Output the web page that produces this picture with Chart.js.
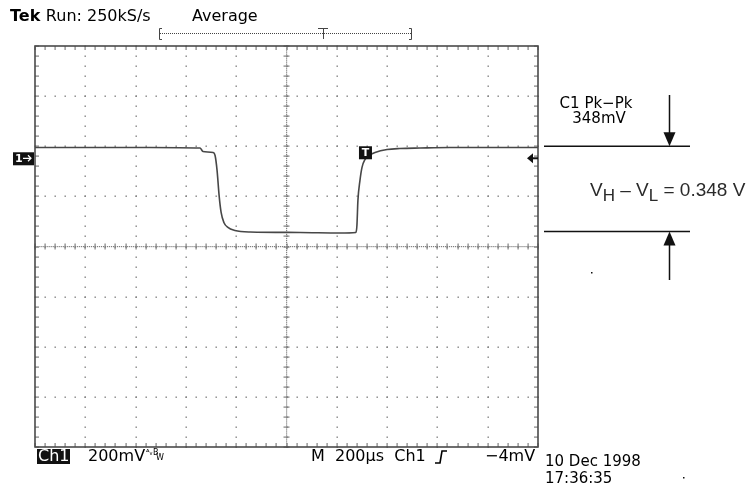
<!DOCTYPE html>
<html>
<head>
<meta charset="utf-8">
<script src="https://cdn.jsdelivr.net/npm/chart.js@4/dist/chart.umd.min.js"></script>
<style>
  html, body { margin: 0; padding: 0; background: #fff; }
  #wrap { position: relative; width: 746px; height: 485px; }
</style>
</head>
<body>
<div id="wrap"><canvas id="scope" width="746" height="485"></canvas></div>
<script>
// time in microseconds across the 10 divisions (200us/div)
const timeUs = [0, 258, 457, 656, 668, 708, 716, 724, 732, 740, 751, 767, 795, 855, 1054, 1213, 1276, 1280, 1284, 1292, 1300, 1312, 1328, 1352, 1400, 1451, 1531, 1650, 2000];
// Ch1 in mV relative to the screen centre (200mV/div)
const ch1mV = [395, 395, 395, 393, 379, 375, 363, 303, 204, 136, 96, 76, 64, 58, 56, 54, 56, 84, 184, 263, 315, 347, 363, 375, 387, 391, 393, 395, 395];

const xTicks = [0, 200, 400, 600, 800, 1000, 1200, 1400, 1600, 1800, 2000];
const yTicks = [-800, -600, -400, -200, 0, 200, 400, 600, 800];

// cursor levels and markers
const cursorHigh = 400;
const cursorLow = 60;
const groundMark = 352;
const trigLevel = 352;
const trigTime = 1312;

const FONT = "'DejaVu Sans', sans-serif";

const graticule = {
  id: "graticule",
  beforeDatasetsDraw(chart) {
    const { ctx, chartArea: a, scales: { x, y } } = chart;
    ctx.save();
    ctx.fillStyle = "#808080";
    const xMid = x.getPixelForValue(1000), yMid = y.getPixelForValue(0);
    // dotted major lines
    xTicks.slice(1, -1).forEach(t => {
      const px = Math.round(x.getPixelForValue(t));
      for (let v = -800; v <= 800; v += 40) {
        ctx.fillRect(px - 0.5, Math.round(y.getPixelForValue(v)) - 0.5, 1.4, 1.4);
      }
    });
    yTicks.slice(1, -1).forEach(v => {
      const py = Math.round(y.getPixelForValue(v));
      for (let t = 0; t <= 2000; t += 40) {
        ctx.fillRect(Math.round(x.getPixelForValue(t)) - 0.5, py - 0.5, 1.4, 1.4);
      }
    });
    // centre lines, finer dots plus small ticks
    for (let v = -800; v <= 800; v += 8) {
      ctx.fillRect(xMid - 0.5, y.getPixelForValue(v) - 0.5, 1.2, 1.2);
    }
    for (let t = 0; t <= 2000; t += 8) {
      ctx.fillRect(x.getPixelForValue(t) - 0.5, yMid - 0.5, 1.2, 1.2);
    }
    for (let v = -800; v <= 800; v += 40) {
      ctx.fillRect(xMid - 3, Math.round(y.getPixelForValue(v)) - 0.5, 6, 1.2);
      ctx.fillRect(a.left, Math.round(y.getPixelForValue(v)) - 0.5, 4, 1.2);
      ctx.fillRect(a.right - 4, Math.round(y.getPixelForValue(v)) - 0.5, 4, 1.2);
    }
    for (let t = 0; t <= 2000; t += 40) {
      ctx.fillRect(Math.round(x.getPixelForValue(t)) - 0.5, yMid - 3, 1.2, 6);
      ctx.fillRect(Math.round(x.getPixelForValue(t)) - 0.5, a.top, 1.2, 4);
      ctx.fillRect(Math.round(x.getPixelForValue(t)) - 0.5, a.bottom - 4, 1.2, 4);
    }
    // frame
    ctx.strokeStyle = "#4a4a4a";
    ctx.lineWidth = 1.6;
    ctx.strokeRect(a.left, a.top, a.right - a.left, a.bottom - a.top);
    ctx.restore();
  }
};

const annotations = {
  id: "annotations",
  afterDraw(chart) {
    const { ctx, chartArea: a, scales: { x, y } } = chart;
    ctx.save();
    ctx.fillStyle = "#000";
    ctx.textBaseline = "middle";

    // header
    ctx.font = "bold 16px " + FONT;
    ctx.fillText("Tek", 10, 17);
    const tekW = ctx.measureText("Tek ").width;
    ctx.font = "16px " + FONT;
    ctx.fillText("Run: 250kS/s", 10 + tekW, 17);
    ctx.fillText("Average", 192, 17);

    // record bar
    ctx.strokeStyle = "#444";
    ctx.lineWidth = 1;
    ctx.setLineDash([1, 1]);
    ctx.beginPath(); ctx.moveTo(160, 33.5); ctx.lineTo(411, 33.5); ctx.stroke();
    ctx.setLineDash([]);
    ctx.beginPath();
    ctx.moveTo(162, 28.5); ctx.lineTo(159.5, 28.5); ctx.lineTo(159.5, 39.5); ctx.lineTo(162, 39.5);
    ctx.moveTo(409, 28.5); ctx.lineTo(411.5, 28.5); ctx.lineTo(411.5, 39.5); ctx.lineTo(409, 39.5);
    ctx.moveTo(318, 28.5); ctx.lineTo(328, 28.5); ctx.moveTo(323.5, 28.5); ctx.lineTo(323.5, 39);
    ctx.stroke();

    // ground marker "1->"
    const gy = y.getPixelForValue(groundMark);
    ctx.fillStyle = "#111";
    ctx.fillRect(13, gy - 6, 21, 13);
    ctx.fillStyle = "#fff";
    ctx.font = "bold 11px " + FONT;
    ctx.fillText("1", 15, gy + 0.5);
    ctx.strokeStyle = "#fff";
    ctx.lineWidth = 1.2;
    ctx.beginPath(); ctx.moveTo(23, gy); ctx.lineTo(31, gy); ctx.moveTo(28, gy - 3); ctx.lineTo(31, gy); ctx.lineTo(28, gy + 3); ctx.stroke();

    // trigger level arrow on the right edge
    const ty = y.getPixelForValue(trigLevel);
    ctx.fillStyle = "#111";
    ctx.beginPath(); ctx.moveTo(a.right - 11, ty); ctx.lineTo(a.right - 5, ty - 5); ctx.lineTo(a.right - 5, ty + 5); ctx.closePath(); ctx.fill();
    ctx.fillRect(a.right - 6, ty - 1, 6, 2);

    // trigger point marker on the trace
    const tx = x.getPixelForValue(trigTime);
    ctx.fillRect(tx - 6, ty - 12, 13, 13);
    ctx.fillStyle = "#fff";
    ctx.font = "bold 11px " + FONT;
    ctx.textAlign = "center";
    ctx.fillText("T", tx + 0.5, ty - 5.5);

    // Pk-Pk readout
    ctx.fillStyle = "#000";
    ctx.font = "15px " + FONT;
    ctx.fillText("C1 Pk\u2212Pk", 596, 104);
    ctx.fillText("348mV", 599, 119);
    ctx.textAlign = "left";

    // cursor lines and arrows
    const hy = y.getPixelForValue(cursorHigh), ly = y.getPixelForValue(cursorLow);
    ctx.strokeStyle = "#111";
    ctx.lineWidth = 1.5;
    ctx.beginPath();
    ctx.moveTo(544, hy); ctx.lineTo(690, hy);
    ctx.moveTo(544, ly); ctx.lineTo(690, ly);
    ctx.moveTo(669.5, 95); ctx.lineTo(669.5, hy - 10);
    ctx.moveTo(669.5, ly + 10); ctx.lineTo(669.5, 280);
    ctx.stroke();
    ctx.fillStyle = "#111";
    ctx.beginPath(); ctx.moveTo(663.5, hy - 14); ctx.lineTo(675.5, hy - 14); ctx.lineTo(669.5, hy); ctx.closePath(); ctx.fill();
    ctx.beginPath(); ctx.moveTo(663.5, ly + 14); ctx.lineTo(675.5, ly + 14); ctx.lineTo(669.5, ly); ctx.closePath(); ctx.fill();
    ctx.fillRect(591, 272, 1.5, 1.5);
    ctx.fillRect(683, 477, 1.5, 1.5);

    // VH - VL = 0.348 V
    ctx.fillStyle = "#2a2a2a";
    ctx.textBaseline = "alphabetic";
    let cx = 590;
    const part = (s, f, dy) => { ctx.font = f; ctx.fillText(s, cx, 196 + dy); cx += ctx.measureText(s).width; };
    const big = "19px 'Liberation Sans', sans-serif", sub = "17px 'Liberation Sans', sans-serif";
    part("V", big, 0); part("H", sub, 5); part(" \u2013 V", big, 0); part("L", sub, 5); part(" = 0.348 V", big, 0);

    // bottom status line
    ctx.textBaseline = "middle";
    ctx.font = "16px " + FONT;
    ctx.fillStyle = "#111";
    ctx.fillRect(37, 449, 33, 15);
    ctx.fillStyle = "#fff";
    ctx.fillText("Ch1", 38, 457);
    ctx.fillStyle = "#000";
    ctx.fillText("200mV", 88, 457);
    ctx.font = "8px " + FONT;
    ctx.fillText("\u1d2c\u1d65", 146, 453);
    ctx.fillText("B", 153, 453); ctx.fillText("W", 156, 458);
    ctx.font = "16px " + FONT;
    ctx.fillText("M  200\u00b5s  Ch1", 311, 457);
    ctx.strokeStyle = "#000";
    ctx.lineWidth = 1.6;
    ctx.beginPath(); ctx.moveTo(435, 463); ctx.lineTo(440, 463); ctx.lineTo(442, 451); ctx.lineTo(447, 451); ctx.stroke();
    ctx.fillText("\u22124mV", 485, 457);
    ctx.font = "15px " + FONT;
    ctx.fillText("10 Dec 1998", 545, 462);
    ctx.fillText("17:36:35", 545, 479);
    ctx.restore();
  }
};

new Chart(document.getElementById("scope"), {
  type: "line",
  data: {
    datasets: [{
      data: timeUs.map((t, i) => ({ x: t, y: ch1mV[i] })),
      borderColor: "#474747",
      borderWidth: 1.6,
      pointRadius: 0,
      tension: 0,
      cubicInterpolationMode: "monotone"
    }]
  },
  options: {
    responsive: false,
    animation: false,
    layout: { padding: { left: 35, top: 46, right: 208, bottom: 38 } },
    plugins: { legend: { display: false }, tooltip: { enabled: false } },
    scales: {
      x: { type: "linear", min: 0, max: 2000, display: false },
      y: { type: "linear", min: -800, max: 800, display: false }
    }
  },
  plugins: [graticule, annotations]
});
</script>
</body>
</html>
